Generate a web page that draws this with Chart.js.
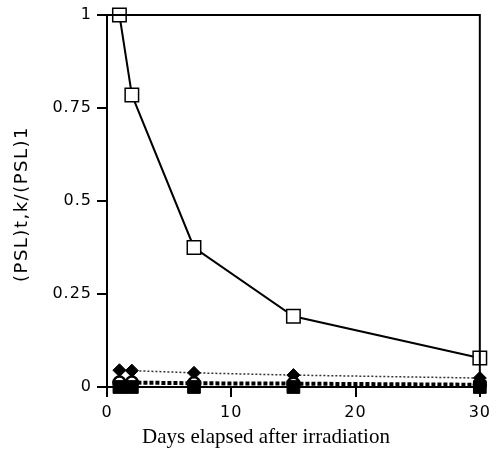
<!DOCTYPE html>
<html>
<head>
<meta charset="utf-8">
<script src="https://cdn.jsdelivr.net/npm/chart.js@4/dist/chart.umd.min.js"></script>
<style>
  html, body { margin: 0; padding: 0; background: #fff; }
  #wrap { width: 496px; height: 454px; }
</style>
</head>
<body>
<div id="wrap"><canvas id="pslChart" width="496" height="454"></canvas></div>
<script>
// data
const days = [1, 2, 7, 15, 30];
const openSquares = [1, 0.785, 0.375, 0.19, 0.078];
const filledDiamonds = [0.045, 0.044, 0.038, 0.032, 0.024];
const openCircles = [0.012, 0.012, 0.01, 0.009, 0.006];
const filledSquares = [0, 0, 0, 0, 0];

const xTicks = [0, 10, 20, 30];
const yTicks = [0, 0.25, 0.5, 0.75, 1];
const yTickLabels = ["0", "0.25", "0.5", "0.75", "1"];

const xTitle = "Days elapsed after irradiation";
const yTitle = "(PSL)t,k/(PSL)1";

function pts(ys) {
    return days.map(function (d, i) {
        return { x: d, y: ys[i] };
    });
}

// frame on top/right plus hand-placed axis titles
const framePlugin = {
    id: "frame",
    beforeDraw: function (chart) {
        // the scanned tick labels are set a little loose
        chart.ctx.letterSpacing = "1px";
    },
    afterDatasetsDraw: function (chart) {
        const ctx = chart.ctx;
        const a = chart.chartArea;
        ctx.save();
        ctx.strokeStyle = "#000";
        ctx.lineWidth = 2;
        ctx.beginPath();
        ctx.moveTo(a.left, a.top);
        ctx.lineTo(a.right, a.top);
        ctx.lineTo(a.right, a.bottom);
        ctx.stroke();

        ctx.fillStyle = "#000";
        ctx.textAlign = "center";
        ctx.textBaseline = "middle";
        ctx.letterSpacing = "0px";
        ctx.font = "21px 'Liberation Serif'";
        ctx.fillText(xTitle, 266, 437);

        ctx.translate(22, 204);
        ctx.rotate(-Math.PI / 2);
        ctx.font = "18px 'DejaVu Sans'";
        ctx.letterSpacing = "1.5px";
        ctx.fillText(yTitle, 0, 0);
        ctx.restore();
    },
};

const ctx = document.getElementById("pslChart").getContext("2d");

new Chart(ctx, {
    type: "line",
    data: {
        datasets: [
            {
                label: "filled squares",
                data: pts(filledSquares),
                borderColor: "#000",
                backgroundColor: "#000",
                borderWidth: 2,
                pointStyle: "rect",
                pointRadius: 9,
                pointBorderWidth: 1,
                clip: false,
            },
            {
                label: "open circles",
                data: pts(openCircles),
                borderColor: "#000",
                backgroundColor: "#fff",
                pointBorderColor: "#000",
                borderWidth: 4,
                borderDash: [4, 2],
                pointStyle: "circle",
                pointRadius: 6,
                pointBorderWidth: 2.5,
                clip: false,
            },
            {
                label: "filled diamonds",
                data: pts(filledDiamonds),
                borderColor: "#333",
                backgroundColor: "#000",
                pointBorderColor: "#000",
                borderWidth: 1.5,
                borderDash: [2, 2],
                pointStyle: "rectRot",
                pointRadius: 6.5,
                pointBorderWidth: 1,
                clip: false,
            },
            {
                label: "open squares",
                data: pts(openSquares),
                borderColor: "#000",
                backgroundColor: "#fff",
                pointBorderColor: "#000",
                borderWidth: 2,
                pointStyle: "rect",
                pointRadius: 9.5,
                pointBorderWidth: 1.5,
                clip: false,
            },
        ],
    },
    options: {
        responsive: false,
        animation: false,
        layout: {
            padding: { left: 0, top: 15, right: 14, bottom: 0 },
        },
        plugins: {
            legend: { display: false },
            tooltip: { enabled: false },
        },
        scales: {
            x: {
                type: "linear",
                min: 0,
                max: 30,
                afterBuildTicks: function (scale) {
                    scale.ticks = xTicks.map(function (v) {
                        return { value: v };
                    });
                },
                afterFit: function (scale) {
                    scale.height = 67;
                },
                grid: {
                    drawOnChartArea: false,
                    drawTicks: true,
                    tickLength: 10,
                    color: "#000",
                    lineWidth: 2,
                },
                border: { color: "#000", width: 2 },
                ticks: {
                    color: "#000",
                    padding: 6,
                    maxRotation: 0,
                    font: { family: "'DejaVu Sans'", size: 16 },
                },
            },
            y: {
                type: "linear",
                min: 0,
                max: 1,
                afterBuildTicks: function (scale) {
                    scale.ticks = yTicks.map(function (v) {
                        return { value: v };
                    });
                },
                afterFit: function (scale) {
                    scale.width = 107;
                },
                grid: {
                    drawOnChartArea: false,
                    drawTicks: true,
                    tickLength: 10,
                    color: "#000",
                    lineWidth: 2,
                },
                border: { color: "#000", width: 2 },
                ticks: {
                    color: "#000",
                    padding: 5,
                    font: { family: "'DejaVu Sans'", size: 16 },
                    callback: function (value) {
                        const i = yTicks.indexOf(value);
                        return i >= 0 ? yTickLabels[i] : "";
                    },
                },
            },
        },
    },
    plugins: [framePlugin],
});
</script>
</body>
</html>
